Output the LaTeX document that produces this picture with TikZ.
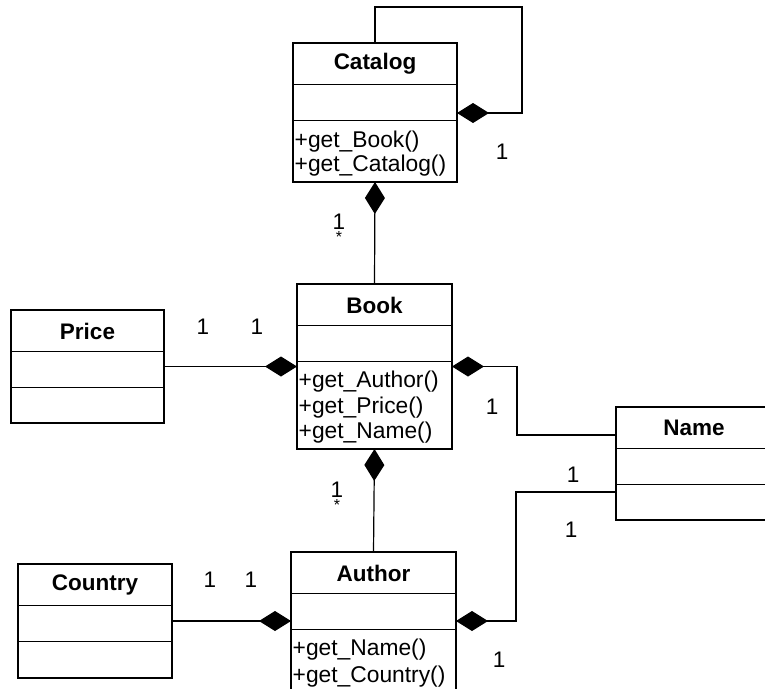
\documentclass[tikz,border=0pt]{standalone}
\usepackage{fontspec}
\setmainfont{Liberation Sans}
\usetikzlibrary{arrows.meta}

\tikzset{
  classbox/.style={draw, line width=1.5pt, inner sep=0pt, outer sep=0pt, anchor=north west},
  part/.style={line width=1.5pt},
  classname/.style={font=\fontsize{22.5}{26}\selectfont\bfseries, inner sep=0pt},
  method/.style={font=\fontsize{22.8}{26}\selectfont, inner sep=0pt, anchor=base west},
  mult/.style={font=\fontsize{22.5}{26}\selectfont, inner sep=0pt},
  many/.style={font=\fontsize{16}{18}\selectfont, inner sep=0pt, anchor=north},
  link/.style={line width=1.2pt},
  cstart/.style={arrows={{Diamond[length=32pt,width=20pt]}-}},
  cend/.style={arrows={-{Diamond[length=32pt,width=20pt]}}},
}

\begin{document}
\begin{tikzpicture}[x=1pt, y=-1pt]
  \useasboundingbox (0,0) rectangle (765,688);
  \clip (0,0) rectangle (765,688);

  % class boxes
  \node[classbox, minimum width=164pt, minimum height=139pt] (catalog) at (293,43) {};
  \node[classbox, minimum width=155pt, minimum height=165pt] (book) at (297,284) {};
  \node[classbox, minimum width=153pt, minimum height=113pt] (price) at (11,310) {};
  \node[classbox, minimum width=165pt, minimum height=142pt] (author) at (291,552) {};
  \node[classbox, minimum width=154pt, minimum height=114pt] (country) at (18,564) {};
  \node[classbox, minimum width=156pt, minimum height=113pt] (name) at (616,407) {};

  % compartment dividers
  \foreach \c in {catalog, book, price, author, country, name} {
    \draw[part] ([yshift=-41.5pt]\c.north west) -- ([yshift=-41.5pt]\c.north east);
    \draw[part] ([yshift=-77.5pt]\c.north west) -- ([yshift=-77.5pt]\c.north east);
  }

  % class names
  \node[classname] (catalogT) at ([yshift=-21pt]catalog.north) {Catalog};
  \node[classname] (bookT)    at ([yshift=-21pt]book.north) {Book};
  \node[classname] (priceT)   at ([yshift=-21pt]price.north) {Price};
  \node[classname] (authorT)  at ([yshift=-21pt]author.north) {Author};
  \node[classname] (countryT) at ([yshift=-21pt]country.north) {Country};
  \node[classname] (nameT)    at ([yshift=-21pt]name.north) {Name};

  % operations
  \node[method] (catalogM1) at ([xshift=1.5pt, yshift=-104.5pt]catalog.north west) {+get\_Book()};
  \node[method] (catalogM2) at ([xshift=1.5pt, yshift=-128.5pt]catalog.north west) {+get\_Catalog()};
  \node[method] (bookM1) at ([xshift=1.5pt, yshift=-103.5pt]book.north west) {+get\_Author()};
  \node[method] (bookM2) at ([xshift=1.5pt, yshift=-129pt]book.north west) {+get\_Price()};
  \node[method] (bookM3) at ([xshift=1.5pt, yshift=-154.5pt]book.north west) {+get\_Name()};
  \node[method] (authorM1) at ([xshift=1.5pt, yshift=-103pt]author.north west) {+get\_Name()};
  \node[method] (authorM2) at ([xshift=1.5pt, yshift=-130pt]author.north west) {+get\_Country()};

  % connectors
  \coordinate (loopcorner) at (522,7);
  \draw[link, cstart] ([yshift=-70pt]catalog.north east) -| (loopcorner) -| (catalog.north);
  \draw[link, cstart] (catalog.south) -- (book.north);
  \draw[link, cend] (price.east) -- (book.west);
  \coordinate (nameA) at ([yshift=-28pt]name.north west);
  \draw[link, cstart] (book.east) -- ++(65,0) |- (nameA);
  \draw[link, cstart] (book.south) -- (author.north);
  \draw[link, cend] (country.east) -- (country.east -| author.west);
  \coordinate (nameB) at ([yshift=-85pt]name.north west);
  \draw[link, cstart] (country.east -| author.east) -- ++(60,0) |- (nameB);

  % multiplicities
  \node[mult] (m1) at (502,152) {1};
  \node[mult] (m2) at (339,222) {1};
  \node[many] (m2s) at (339,231.5) {*};
  \node[mult] (m3) at (203,327) {1};
  \node[mult] (m4) at (257,327) {1};
  \node[mult] (m5) at (492,407) {1};
  \node[mult] (m6) at (337,490) {1};
  \node[many] (m6s) at (337,499.5) {*};
  \node[mult] (m7) at (573,475) {1};
  \node[mult] (m8) at (571,530) {1};
  \node[mult] (m9) at (210,580) {1};
  \node[mult] (m10) at (251,580) {1};
  \node[mult] (m11) at (499,660) {1};
\end{tikzpicture}
\end{document}
